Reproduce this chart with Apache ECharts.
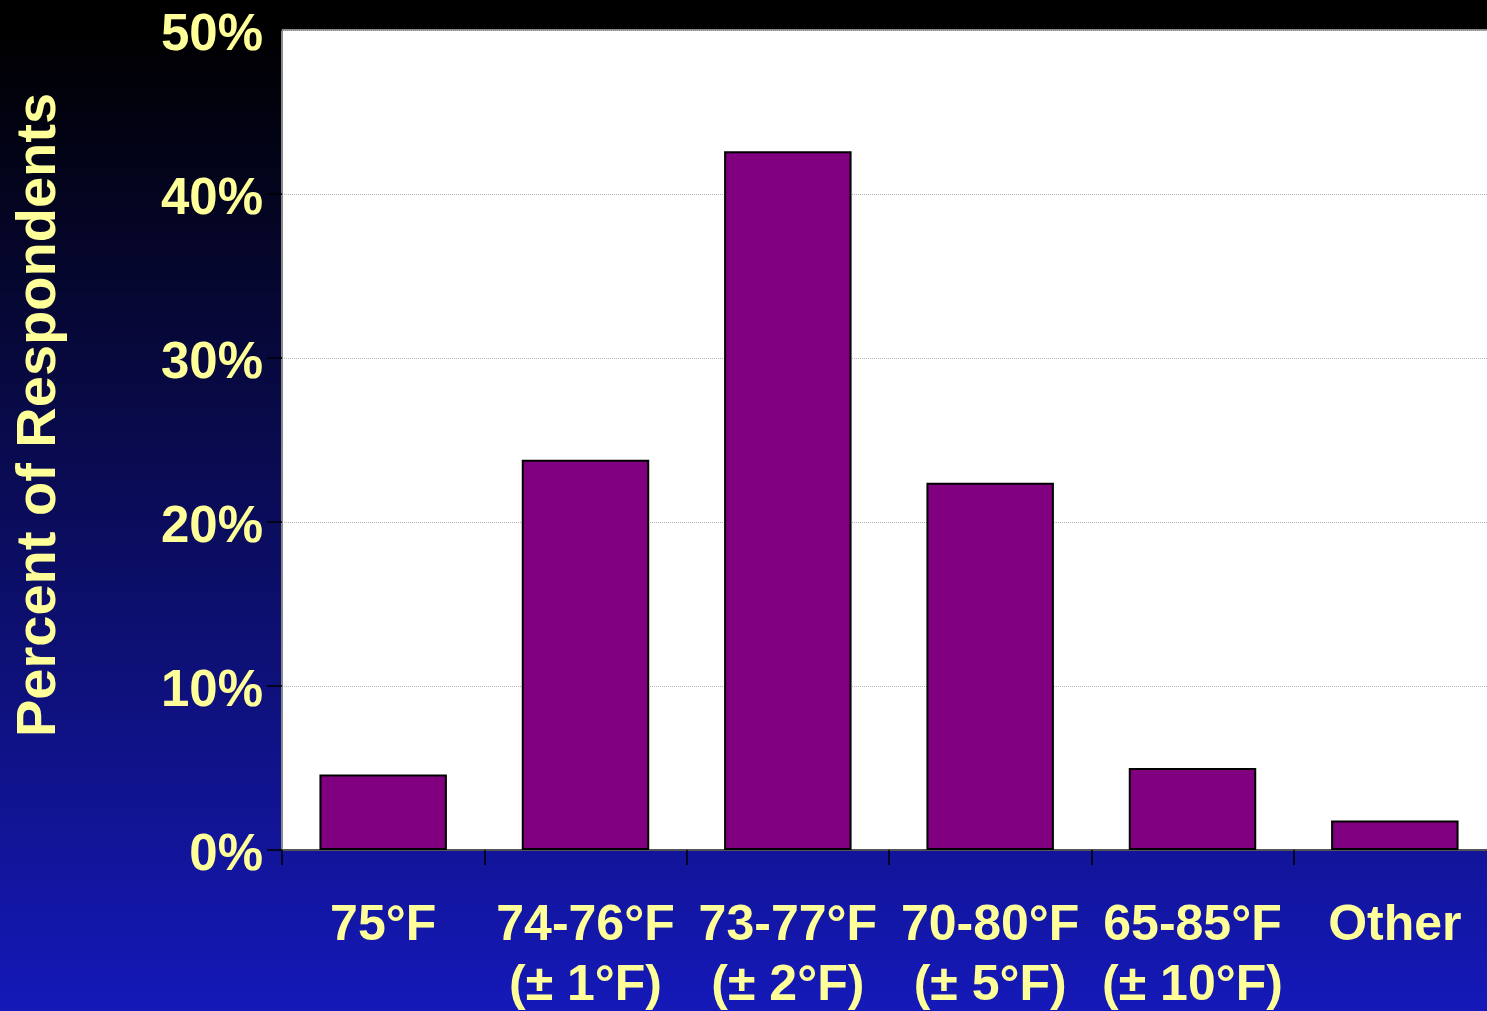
<!DOCTYPE html>
<html>
<head>
<meta charset="utf-8">
<title>Preferred Temperature Range</title>
<script src="https://cdn.jsdelivr.net/npm/echarts@6/dist/echarts.min.js"></script>
<style>
  html, body { margin: 0; padding: 0; width: 100%; height: 100%; overflow: hidden; background: #000; }
  #chart { width: 1487px; height: 1011px; }
</style>
</head>
<body>
<div id="chart"></div>
<script>
// Survey answers: preferred temperature setting / tolerance band
const categories = ['75°F', '74-76°F\n(± 1°F)', '73-77°F\n(± 2°F)', '70-80°F\n(± 5°F)', '65-85°F\n(± 10°F)', 'Other'];
const percentValues = [4.6, 23.8, 42.6, 22.4, 5.0, 1.8];
const yTicks = [0, 10, 20, 30, 40, 50];
const yAxisTitle = 'Percent of Respondents';

const textColor = '#FFFF99';
const fontFamily = 'Liberation Sans, Arial, sans-serif';

const chart = echarts.init(document.getElementById('chart'));

chart.setOption({
  animation: false,
  backgroundColor: new echarts.graphic.LinearGradient(0, 0, 0, 1, [
    { offset: 0, color: '#000000' },
    { offset: 0.03, color: '#000000' },
    { offset: 1, color: '#1519b8' }
  ]),
  grid: {
    left: 282,
    top: 30,
    width: 1214,
    height: 820,
    containLabel: false,
    outerBoundsMode: 'none',
    show: true,
    backgroundColor: '#ffffff',
    borderColor: '#8a8a8a',
    borderWidth: 2
  },
  graphic: [{
    type: 'text',
    rotation: Math.PI / 2,
    x: 40,
    y: 415,
    style: {
      text: yAxisTitle,
      fill: textColor,
      font: 'bold 56px ' + fontFamily,
      align: 'center',
      verticalAlign: 'middle'
    }
  }],
  xAxis: {
    type: 'category',
    data: categories,
    axisLine: { show: true, lineStyle: { color: '#555555', width: 2 } },
    axisTick: {
      show: true,
      inside: false,
      length: 15,
      alignWithLabel: false,
      lineStyle: { color: '#000000', width: 1.5 }
    },
    axisLabel: {
      color: textColor,
      fontFamily: fontFamily,
      fontWeight: 'bold',
      fontSize: 50,
      lineHeight: 60,
      margin: 46,
      interval: 0
    },
    splitLine: { show: false }
  },
  yAxis: {
    type: 'value',
    min: yTicks[0],
    max: yTicks[yTicks.length - 1],
    interval: 10,
    axisLine: { show: true, lineStyle: { color: '#8a8a8a', width: 2 } },
    axisTick: { show: true, length: 15, lineStyle: { color: '#000000', width: 1.5 } },
    axisLabel: {
      margin: 19,
      formatter: v => '{pct|' + v + '%}',
      rich: {
        pct: {
          color: textColor,
          fontFamily: fontFamily,
          fontWeight: 'bold',
          fontSize: 51,
          lineHeight: 51,
          padding: [12, 0, 0, 0]
        }
      }
    },
    splitLine: { show: true, lineStyle: { color: '#b4b4b4', type: 'dotted', width: 1 } }
  },
  series: [{
    type: 'bar',
    data: percentValues,
    barCategoryGap: '37%',
    itemStyle: {
      color: '#800080',
      borderColor: '#000000',
      borderWidth: 2
    }
  }]
});
</script>
</body>
</html>
